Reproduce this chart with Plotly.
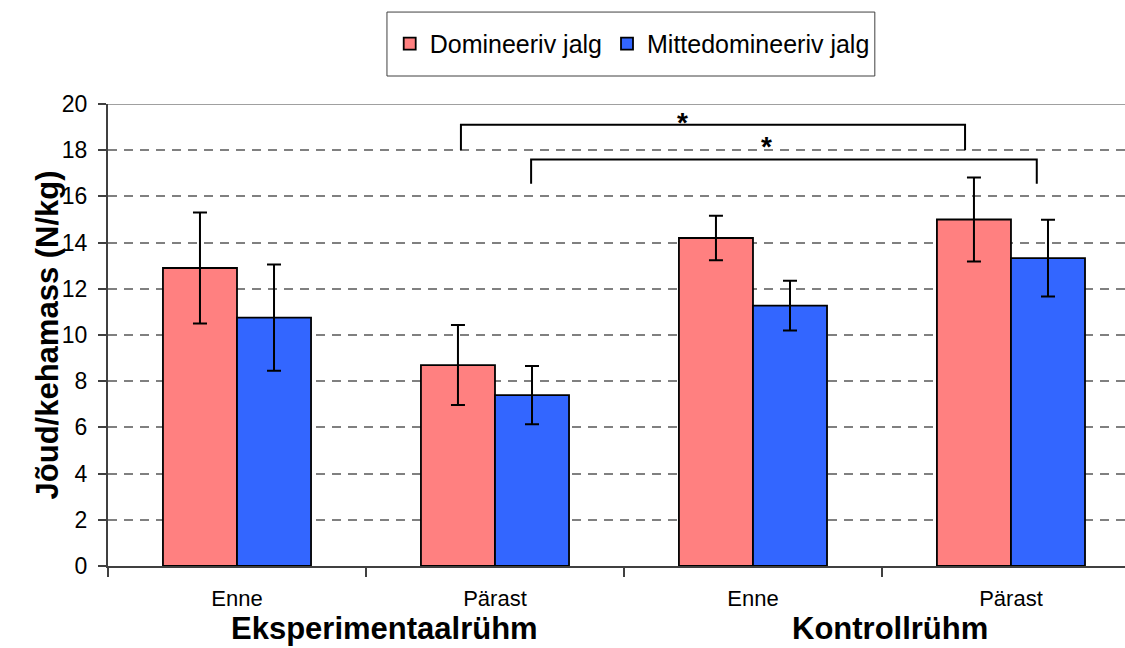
import plotly.graph_objects as go

# Measurement groups along the x axis
phases = ["Enne", "Pärast", "Enne", "Pärast"]
groups = ["Eksperimentaalrühm", "Kontrollrühm"]
series_names = ["Domineeriv jalg", "Mittedomineeriv jalg"]

# Mean force per body mass (N/kg) and standard deviations
dominant = [12.9, 8.7, 14.2, 15.0]
dominant_sd = [2.4, 1.73, 0.96, 1.82]
non_dominant = [10.75, 7.4, 11.27, 13.33]
non_dominant_sd = [2.3, 1.26, 1.08, 1.66]

y_ticks = [0, 2, 4, 6, 8, 10, 12, 14, 16, 18, 20]

# Significance brackets: left x, right x, leg bottom, bracket top, star x, star y
brackets = [
    (0.868, 2.822, 18.0, 19.1, 1.725, 19.40),
    (1.14, 3.10, 16.55, 17.6, 2.054, 18.37),
]

FONT = "Liberation Sans, Arial, sans-serif"
x = list(range(len(phases)))

fig = go.Figure()
for name, vals, sd, color in [
    (series_names[0], dominant, dominant_sd, "#FF8080"),
    (series_names[1], non_dominant, non_dominant_sd, "#3366FF"),
]:
    fig.add_trace(go.Bar(
        x=x, y=vals, name=name,
        marker=dict(color=color, line=dict(color="black", width=1.8)),
        error_y=dict(type="data", array=sd, color="black", thickness=2, width=7),
    ))

shapes = []
annotations = []
for x0, x1, yl, yt, sx, sy in brackets:
    shapes.append(dict(
        type="path", xref="x", yref="y",
        path=f"M {x0},{yl} L {x0},{yt} L {x1},{yt} L {x1},{yl}",
        line=dict(color="black", width=2),
    ))
    annotations.append(dict(
        x=sx, y=sy, xref="x", yref="y", text="<b>*</b>", showarrow=False,
        font=dict(family=FONT, size=28, color="black"), yshift=-5,
    ))

# Top border of the plot area
shapes.append(dict(type="line", xref="paper", yref="y", x0=0, x1=1, y0=20, y1=20,
                   line=dict(color="#A0A0A0", width=2), layer="above"))

# Legend frame
shapes.append(dict(type="rect", xref="paper", yref="paper",
                   x0=0.2743, x1=0.754, y0=1.0606, y1=1.199,
                   line=dict(color="#404040", width=1)))

# Group labels under the phase labels
for gx, g in zip([0.57, 2.53], groups):
    annotations.append(dict(
        x=gx, y=-0.1775, xref="x", yref="paper", text=f"<b>{g}</b>",
        showarrow=False, yanchor="bottom",
        font=dict(family=FONT, size=31, color="black"),
    ))

# Y axis title
annotations.append(dict(
    x=-0.0787, y=0.5, xref="paper", yref="paper",
    text="<b>Jõud/kehamass (N/kg)</b>", textangle=-90, showarrow=False,
    font=dict(family=FONT, size=31, color="black"),
))

fig.update_layout(
    width=1125, height=648,
    margin=dict(l=108, r=0, t=104, b=82),
    paper_bgcolor="white", plot_bgcolor="white",
    barmode="group", bargap=0.426, bargroupgap=0,
    font=dict(family=FONT, size=22, color="black"),
    showlegend=True,
    legend=dict(
        orientation="h", x=0.277, xanchor="left", y=1.13, yanchor="middle",
        font=dict(family=FONT, size=25, color="black"),
        bgcolor="rgba(0,0,0,0)", borderwidth=0,
    ),
    shapes=shapes,
    annotations=annotations,
)

fig.update_xaxes(
    range=[-0.5, 3.442],
    tickvals=x, ticktext=phases, ticks="",
    showgrid=False, zeroline=False,
    showline=True, linecolor="#404040", linewidth=2,
    tickfont=dict(family=FONT, size=22, color="black"),
    ticklabelstandoff=12,
    minor=dict(tickvals=[-0.5, 0.5, 1.5, 2.5, 3.5], ticks="outside",
               ticklen=9, tickcolor="#404040", tickwidth=1.5, showgrid=False),
)

fig.update_yaxes(
    range=[0, 20], tickvals=y_ticks,
    ticks="outside", ticklen=8, tickcolor="#404040", tickwidth=1.5,
    showline=True, linecolor="#404040", linewidth=2,
    showgrid=True, gridcolor="#808080", gridwidth=1.5, griddash="9px,7px",
    zeroline=False,
    tickfont=dict(family=FONT, size=23, color="black"),
    ticklabelstandoff=6,
)

fig.write_html("out.html")
